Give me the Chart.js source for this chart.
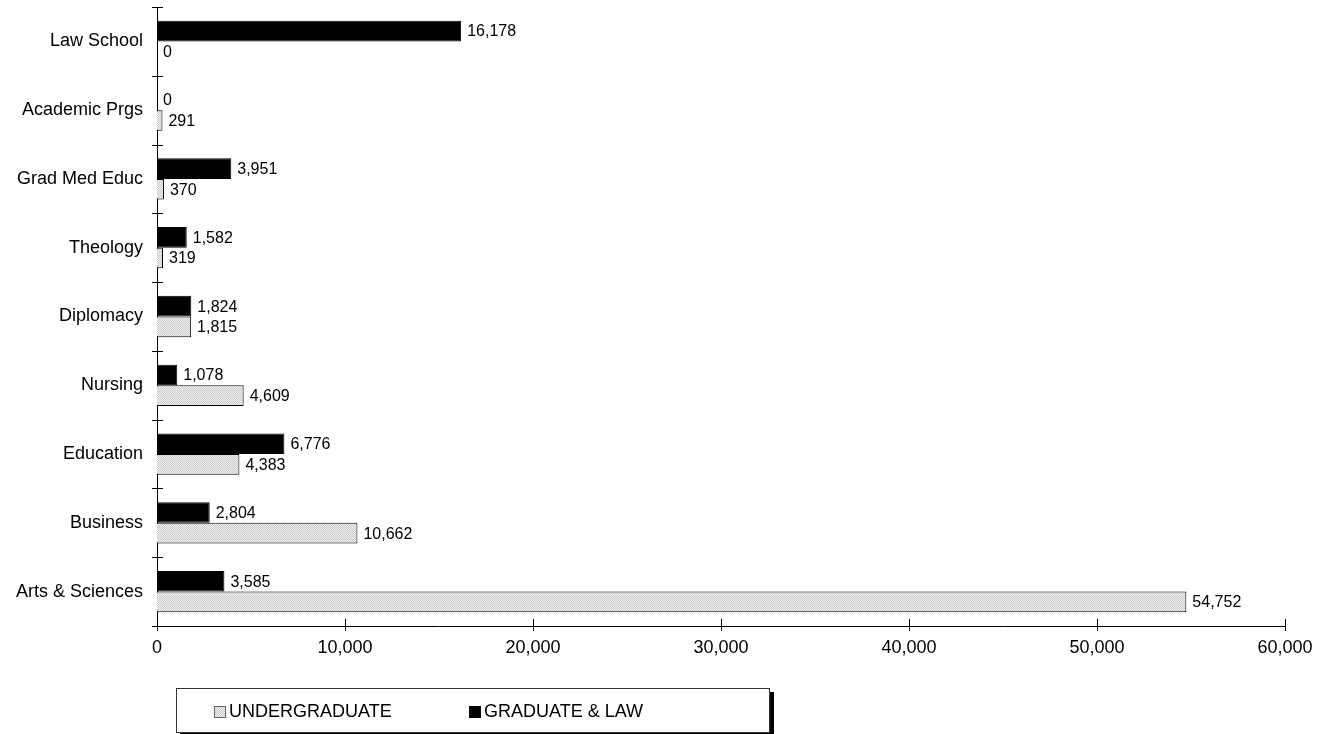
<!DOCTYPE html>
<html lang="en">
  <head>
    <meta charset="UTF-8" />
    <title>Enrollment by School</title>
    <script src="https://cdn.jsdelivr.net/npm/chart.js"></script>
    <style>
      body {
        margin: 0;
        background: #fff;
        font-family: "Liberation Sans", Arial, sans-serif;
      }
      .wrap {
        position: relative;
        width: 1328px;
        height: 734px;
      }
      .legend {
        position: absolute;
        left: 176px;
        top: 688px;
        width: 592px;
        height: 43px;
        border: 1px solid #333;
        box-shadow: 4px 4px 0 #000;
        background: #fff;
        font-size: 18px;
        color: #000;
      }
      .legend span.item {
        position: absolute;
        top: 11px;
        line-height: 22px;
        white-space: nowrap;
      }
      .legend i {
        display: inline-block;
        width: 12px;
        height: 12px;
        margin-right: 3px;
        vertical-align: -1px;
        box-sizing: border-box;
      }
    </style>
  </head>
  <body>
    <div class="wrap">
      <canvas id="enrollChart" width="1328" height="734"></canvas>
      <div class="legend" id="legend"></div>
    </div>

    <script>
      // categories, top to bottom
      const schools = [
        "Law School",
        "Academic Prgs",
        "Grad Med Educ",
        "Theology",
        "Diplomacy",
        "Nursing",
        "Education",
        "Business",
        "Arts & Sciences"
      ];
      const undergraduate = [0, 291, 370, 319, 1815, 4609, 4383, 10662, 54752];
      const graduateLaw = [16178, 0, 3951, 1582, 1824, 1078, 6776, 2804, 3585];
      const seriesNames = ["UNDERGRADUATE", "GRADUATE & LAW"];
      const xTicks = [0, 10000, 20000, 30000, 40000, 50000, 60000];

      const fmt = v => v.toLocaleString("en-US");

      // fine dotted fill for the undergraduate bars
      function dotPattern() {
        const c = document.createElement("canvas");
        c.width = 2;
        c.height = 2;
        const g = c.getContext("2d");
        g.fillStyle = "#f2f2f2";
        g.fillRect(0, 0, 2, 2);
        g.fillStyle = "#c8c8c8";
        g.fillRect(0, 0, 1, 1);
        g.fillRect(1, 1, 1, 1);
        return g.createPattern(c, "repeat");
      }

      // value labels at the end of each bar
      const valueLabels = {
        id: "valueLabels",
        afterDatasetsDraw(chart) {
          const ctx = chart.ctx;
          ctx.save();
          ctx.font = '16px "Liberation Sans", Arial, sans-serif';
          ctx.fillStyle = "#000";
          ctx.textAlign = "left";
          ctx.textBaseline = "middle";
          chart.data.datasets.forEach((ds, di) => {
            chart.getDatasetMeta(di).data.forEach((bar, i) => {
              ctx.fillText(fmt(ds.data[i]), bar.x + 6, bar.y + 1);
            });
          });
          ctx.restore();
        }
      };

      // Excel-style tick marks that cross the axis line
      const crossTicks = {
        id: "crossTicks",
        afterDraw(chart) {
          const ctx = chart.ctx;
          const x = chart.scales.x;
          const y = chart.scales.y;
          const area = chart.chartArea;
          ctx.save();
          ctx.strokeStyle = "#000";
          ctx.lineWidth = 1;
          ctx.beginPath();
          for (let i = 0; i <= schools.length; i++) {
            const py = Math.round(y.getPixelForValue(i - 0.5)) + 0.5;
            ctx.moveTo(area.left - 5, py);
            ctx.lineTo(area.left + 6, py);
          }
          xTicks.forEach(v => {
            const px = Math.round(x.getPixelForValue(v)) + 0.5;
            ctx.moveTo(px, area.bottom - 7);
            ctx.lineTo(px, area.bottom + 5);
          });
          ctx.stroke();
          ctx.restore();
        }
      };

      const ctx = document.getElementById("enrollChart").getContext("2d");
      new Chart(ctx, {
        type: "bar",
        data: {
          labels: schools,
          datasets: [
            {
              label: seriesNames[1],
              data: graduateLaw,
              backgroundColor: "#000",
              borderColor: "#000",
              borderWidth: 1
            },
            {
              label: seriesNames[0],
              data: undergraduate,
              backgroundColor: dotPattern(),
              borderColor: "#000",
              borderWidth: 1
            }
          ]
        },
        options: {
          indexAxis: "y",
          responsive: false,
          animation: false,
          devicePixelRatio: 1,
          categoryPercentage: 0.6,
          barPercentage: 1.0,
          layout: { padding: { top: 7, right: 43, left: 0, bottom: 0 } },
          scales: {
            x: {
              min: 0,
              max: 60000,
              afterBuildTicks: s => {
                s.ticks = xTicks.map(v => ({ value: v }));
              },
              afterFit: s => {
                s.height = 108;
                s.paddingLeft = 0;
                s.paddingRight = 0;
              },
              grid: { display: false },
              border: { display: true, color: "#000", width: 1 },
              ticks: {
                color: "#000",
                padding: 3,
                maxRotation: 0,
                font: { family: '"Liberation Sans", Arial, sans-serif', size: 18 },
                callback: v => fmt(v)
              }
            },
            y: {
              afterFit: s => {
                s.width = 157;
                s.paddingTop = 0;
                s.paddingBottom = 0;
              },
              grid: { display: false },
              border: { display: true, color: "#000", width: 1 },
              ticks: {
                color: "#000",
                padding: 6,
                font: { family: '"Liberation Sans", Arial, sans-serif', size: 18 }
              }
            }
          },
          plugins: {
            legend: { display: false },
            tooltip: { enabled: false }
          }
        },
        plugins: [valueLabels, crossTicks]
      });

      // legend below the chart
      const legend = document.getElementById("legend");
      const swatches = [
        "background: repeating-conic-gradient(#c8c8c8 0 25%, #f2f2f2 0 50%) 0 0 / 2px 2px; border: 1px solid #666;",
        "background: #000;"
      ];
      const itemLeft = [37, 292];
      seriesNames.forEach((name, i) => {
        const item = document.createElement("span");
        item.className = "item";
        item.style.left = itemLeft[i] + "px";
        item.innerHTML = '<i style="' + swatches[i] + '"></i>';
        item.appendChild(document.createTextNode(name));
        legend.appendChild(item);
      });
    </script>
  </body>
</html>
